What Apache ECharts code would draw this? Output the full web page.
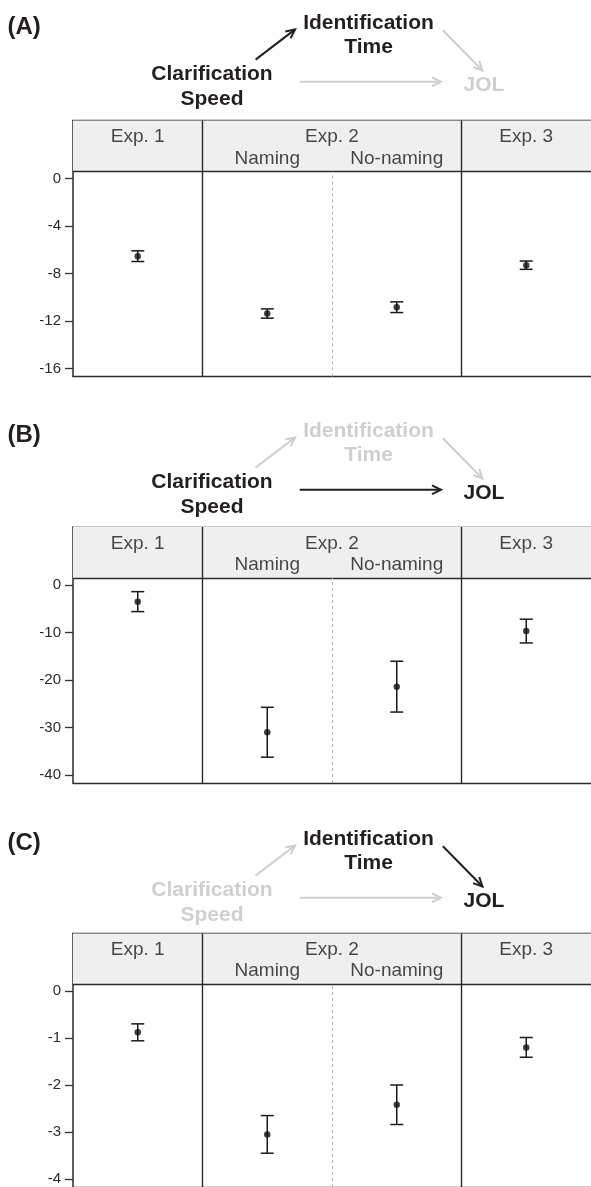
<!DOCTYPE html>
<html><head><meta charset="utf-8">
<script src="https://cdn.jsdelivr.net/npm/echarts@6/dist/echarts.min.js"></script>
<style>html,body{margin:0;padding:0;background:#fff}#c{width:591px;height:1187px}</style>
</head><body><div id="c"></div>
<script>
// ---------------- data ----------------
const categories = ['Exp. 1', 'Naming', 'No-naming', 'Exp. 3'];
const headerTop = ['Exp. 1', 'Exp. 2', 'Exp. 3'];
const headerSub = ['Naming', 'No-naming'];

const meansA = [-6.54, -11.37, -10.84, -7.30];
const errA   = [0.45, 0.39, 0.45, 0.35];
const ticksA = [0, -4, -8, -12, -16];

const meansB = [-3.5, -31.0, -21.4, -9.7];
const errB   = [2.1, 5.25, 5.35, 2.5];
const ticksB = [0, -10, -20, -30, -40];

const meansC = [-0.88, -3.05, -2.42, -1.20];
const errC   = [0.18, 0.40, 0.42, 0.21];
const ticksC = [0, -1, -2, -3, -4];

const panelLabels = ['(A)', '(B)', '(C)'];
const nodeIdent = 'Identification\nTime';
const nodeClar = 'Clarification\nSpeed';
const nodeJol = 'JOL';
// which diagram parts are highlighted (1 = dark, 0 = faded)
const highlightA = {ident: 1, clar: 1, jol: 0, clarToIdent: 1, identToJol: 0, clarToJol: 0};
const highlightB = {ident: 0, clar: 1, jol: 1, clarToIdent: 0, identToJol: 0, clarToJol: 1};
const highlightC = {ident: 1, clar: 0, jol: 1, clarToIdent: 0, identToJol: 1, clarToJol: 0};

// ---------------- layout / style ----------------
const FONT = '"Liberation Sans", Arial, Helvetica, sans-serif';
const DARK = '#231f20';
const LIGHT = '#cfcfcf';
const BORDER = '#2a2a2a';
const GRID_LEFT = 73, GRID_W = 520;
const HEADER_H = 51, PAD_TOP = 7, PAD_BOTTOM = 8, TICK_GAP = 47.5;
const ROW1 = 16.5, ROW2 = 38;
const CAP_W = 13;
const panelTops = [120.5, 527, 933.5];
const diagramDy = [0, 408, 816];

const panels = [
  {means: meansA, errs: errA, ticks: ticksA, hl: highlightA},
  {means: meansB, errs: errB, ticks: ticksB, hl: highlightB},
  {means: meansC, errs: errC, ticks: ticksC, hl: highlightC}
];

const grids = [], xAxes = [], yAxes = [], series = [], graphics = [];

panels.forEach((p, i) => {
  const tMax = Math.max(...p.ticks), tMin = Math.min(...p.ticks);
  const step = (tMax - tMin) / (p.ticks.length - 1);
  const ppu = TICK_GAP / step;
  const plotMax = tMax + PAD_TOP / ppu;
  const plotMin = tMin - PAD_BOTTOM / ppu;
  const headMax = plotMax + HEADER_H / ppu;
  const lineSty = {color: BORDER, width: 1.4};

  grids.push({left: GRID_LEFT, width: GRID_W, top: panelTops[i],
    height: HEADER_H + PAD_TOP + (p.ticks.length - 1) * TICK_GAP + PAD_BOTTOM});

  ['bottom', 'top'].forEach(pos => xAxes.push({
    gridIndex: i, type: 'value', min: 0, max: categories.length, position: pos,
    axisLine: {show: true, onZero: false, lineStyle: lineSty},
    axisTick: {show: false}, axisLabel: {show: false}, splitLine: {show: false}
  }));

  yAxes.push({
    gridIndex: i, type: 'value', min: plotMin, max: headMax,
    axisLine: {show: true, lineStyle: {color: BORDER, width: 1.5}},
    axisTick: {show: true, length: 8, customValues: p.ticks, lineStyle: {color: '#333', width: 1.3}},
    axisLabel: {customValues: p.ticks, fontSize: 15, color: '#2a2a2a', margin: 12, fontFamily: FONT},
    splitLine: {show: false}
  });

  const xb = i * 2;
  // error bars
  series.push({
    type: 'custom', xAxisIndex: xb, yAxisIndex: i, z: 4,
    data: categories.map((c, j) => [j + 0.5, p.means[j] - p.errs[j], p.means[j] + p.errs[j]]),
    encode: {x: 0, y: [1, 2]},
    renderItem: (params, api) => {
      const x = api.value(0);
      const a = api.coord([x, api.value(1)]), b = api.coord([x, api.value(2)]);
      const st = {stroke: '#1a1a1a', lineWidth: 1.5};
      const h = CAP_W / 2;
      return {type: 'group', children: [
        {type: 'line', shape: {x1: a[0], y1: a[1], x2: b[0], y2: b[1]}, style: st},
        {type: 'line', shape: {x1: a[0] - h, y1: a[1], x2: a[0] + h, y2: a[1]}, style: st},
        {type: 'line', shape: {x1: b[0] - h, y1: b[1], x2: b[0] + h, y2: b[1]}, style: st}
      ]};
    }
  });
  // means + frame decorations
  series.push({
    type: 'scatter', xAxisIndex: xb, yAxisIndex: i, z: 5, clip: false,
    symbol: 'circle', symbolSize: 6.5, itemStyle: {color: '#111'},
    data: categories.map((c, j) => [j + 0.5, p.means[j]]),
    markArea: {silent: true, itemStyle: {color: '#efefef'},
      data: [[{coord: [0, plotMax]}, {coord: [categories.length, headMax]}]]},
    markLine: {silent: true, symbol: ['none', 'none'], label: {show: false},
      lineStyle: {color: BORDER, width: 1.4, type: 'solid'},
      data: [
        [{coord: [1, plotMin]}, {coord: [1, headMax]}],
        [{coord: [3, plotMin]}, {coord: [3, headMax]}],
        [{coord: [0, plotMax]}, {coord: [categories.length, plotMax]}],
        [{coord: [2, plotMin], lineStyle: {color: '#b5b5b5', width: 1, type: [3, 3]}}, {coord: [2, plotMax]}]
      ]}
  });
  // header texts
  const r1 = headMax - ROW1 / ppu, r2 = headMax - ROW2 / ppu;
  series.push({
    type: 'scatter', xAxisIndex: xb, yAxisIndex: i, z: 6, silent: true, clip: false,
    symbol: 'circle', symbolSize: 1, itemStyle: {color: 'rgba(0,0,0,0)'},
    label: {show: true, position: 'inside', formatter: d => d.value[2],
      fontSize: 19, color: '#1a1a1a', fontFamily: FONT},
    data: [[0.5, r1, headerTop[0]], [2, r1, headerTop[1]], [3.5, r1, headerTop[2]],
           [1.5, r2, headerSub[0]], [2.5, r2, headerSub[1]]]
  });

  // diagram
  const dy = diagramDy[i];
  const col = on => on ? DARK : LIGHT;
  const txt = (t, x, y, on, size) => ({type: 'text', x: x, y: y + dy, z: 10, style: {
    text: t, fill: col(on), fontSize: size, fontWeight: 'bold', fontFamily: FONT,
    align: 'center', verticalAlign: 'middle', lineHeight: 24.5}});
  const arrow = (x1, y1, x2, y2, on) => {
    const ang = Math.atan2(y2 - y1, x2 - x1), L = 10, w = Math.PI / 7;
    const c = col(on);
    return [
      {type: 'line', z: 10, shape: {x1: x1, y1: y1 + dy, x2: x2, y2: y2 + dy}, style: {stroke: c, lineWidth: 2}},
      {type: 'polyline', z: 10, shape: {points: [
        [x2 - L * Math.cos(ang - w), y2 + dy - L * Math.sin(ang - w)], [x2, y2 + dy],
        [x2 - L * Math.cos(ang + w), y2 + dy - L * Math.sin(ang + w)]]},
        style: {stroke: c, lineWidth: 2, fill: null}}
    ];
  };
  graphics.push({type: 'text', x: 7.5, y: 27 + dy, z: 10, style: {text: panelLabels[i], fill: DARK,
    fontSize: 24, fontWeight: 'bold', fontFamily: FONT, align: 'left', verticalAlign: 'middle'}});
  graphics.push(txt(nodeIdent, 368.5, 35, p.hl.ident, 21));
  graphics.push(txt(nodeClar, 212, 86.5, p.hl.clar, 21));
  graphics.push(txt(nodeJol, 484, 85.5, p.hl.jol, 21));
  graphics.push(...arrow(255.6, 59.6, 295.1, 29.4, p.hl.clarToIdent));
  graphics.push(...arrow(442.9, 30.2, 482.5, 70.5, p.hl.identToJol));
  graphics.push(...arrow(299.7, 81.8, 441, 81.8, p.hl.clarToJol));
});

const chart = echarts.init(document.getElementById('c'), null, {renderer: 'canvas'});
chart.setOption({
  animation: false,
  backgroundColor: '#fff',
  grid: grids, xAxis: xAxes, yAxis: yAxes, series: series,
  graphic: {elements: graphics}
});
</script></body></html>
